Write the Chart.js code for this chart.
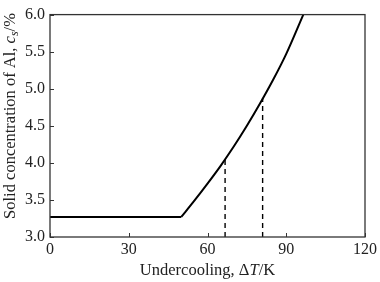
<!DOCTYPE html>
<html>
<head>
<meta charset="utf-8">
<script src="https://cdn.jsdelivr.net/npm/chart.js@4"></script>
<style>
  html, body { margin: 0; padding: 0; background: #fff; }
  #wrap { width: 380px; height: 282px; position: relative; }
</style>
</head>
<body>
<div id="wrap"><canvas id="lineChart"></canvas></div>
<script>
// curve: undercooling (K) vs solid concentration of Al (%)
var undercooling = [0, 50, 55, 60, 65, 70, 75, 80, 85, 90, 96.5];
var concentration = [3.27, 3.27, 3.49, 3.72, 3.96, 4.22, 4.50, 4.80, 5.12, 5.47, 6.0];

// dashed markers
var markX = [66.7, 81];
var markY = [4.05, 4.87];

var xTicks = [0, 30, 60, 90, 120];
var yTicks = [3.0, 3.5, 4.0, 4.5, 5.0, 5.5, 6.0];

var serif = '"Liberation Serif", "DejaVu Serif", serif';

var flat = [], rising = [];
for (var a = 0; a < undercooling.length; a++) {
    var p = { x: undercooling[a], y: concentration[a] };
    if (a <= 1) flat.push(p);
    if (a >= 1) rising.push(p);
}

var datasets = [{
    data: flat,
    borderColor: '#000',
    borderWidth: 2,
    pointRadius: 0,
    fill: false
}, {
    data: rising,
    borderColor: '#000',
    borderWidth: 2,
    pointRadius: 0,
    fill: false,
    cubicInterpolationMode: 'monotone'
}];
for (var b = 0; b < markX.length; b++) {
    datasets.push({
        data: [{ x: markX[b], y: 3.0 }, { x: markX[b], y: markY[b] }],
        borderColor: '#000',
        borderWidth: 1.4,
        borderDash: [5, 4],
        pointRadius: 0,
        fill: false
    });
}

// inward ticks, box frame and rich-text axis titles
var decor = {
    id: 'decor',
    afterDraw: function(chart) {
        var ctx = chart.ctx;
        var area = chart.chartArea;
        var xs = chart.scales.x, ys = chart.scales.y;
        ctx.save();
        ctx.strokeStyle = '#333';
        ctx.lineWidth = 1.3;
        ctx.strokeRect(area.left, area.top, area.right - area.left, area.bottom - area.top);
        ctx.lineWidth = 1;
        ctx.beginPath();
        xTicks.forEach(function(v) {
            var px = Math.round(xs.getPixelForValue(v)) + 0.5;
            ctx.moveTo(px, area.bottom);
            ctx.lineTo(px, area.bottom - 4);
        });
        yTicks.forEach(function(v) {
            var py = Math.round(ys.getPixelForValue(v)) + 0.5;
            ctx.moveTo(area.left, py);
            ctx.lineTo(area.left + 4, py);
        });
        ctx.stroke();

        ctx.fillStyle = '#222';
        ctx.textBaseline = 'alphabetic';
        // x title
        var parts = [['Undercooling, \u0394', 'normal'], ['T', 'italic'], ['/K', 'normal']];
        drawParts(ctx, parts, (area.left + area.right) / 2, 275, 16.5);
        // y title
        ctx.translate(15, 116);
        ctx.rotate(-Math.PI / 2);
        var yparts = [['Solid concentration of Al, ', 'normal'], ['c', 'italic'], ['s', 'italic-sub'], ['/%', 'normal']];
        drawParts(ctx, yparts, 0, 0, 16.5);
        ctx.restore();
    }
};

function drawParts(ctx, parts, cx, y, size) {
    var total = 0;
    var widths = [];
    parts.forEach(function(p) {
        ctx.font = fontFor(p[1], size);
        var w = ctx.measureText(p[0]).width;
        widths.push(w);
        total += w;
    });
    var x = cx - total / 2;
    ctx.textAlign = 'left';
    parts.forEach(function(p, i) {
        ctx.font = fontFor(p[1], size);
        ctx.fillText(p[0], x, p[1] === 'italic-sub' ? y + 3 : y);
        x += widths[i];
    });
}

function fontFor(style, size) {
    if (style === 'italic') return 'italic ' + size + 'px ' + serif;
    if (style === 'italic-sub') return 'italic ' + Math.round(size * 0.7) + 'px ' + serif;
    return size + 'px ' + serif;
}

var ctx = document.getElementById('lineChart').getContext('2d');
new Chart(ctx, {
    type: 'line',
    data: { datasets: datasets },
    plugins: [decor],
    options: {
        responsive: true,
        maintainAspectRatio: false,
        animation: false,
        layout: { padding: { top: 5, right: 12, left: 0, bottom: 0 } },
        plugins: { legend: { display: false }, tooltip: { enabled: false } },
        scales: {
            x: {
                type: 'linear',
                min: 0,
                max: 120,
                afterBuildTicks: function(s) { s.ticks = xTicks.map(function(v) { return { value: v }; }); },
                afterFit: function(s) { s.height = 45; },
                grid: { display: false, drawTicks: false },
                border: { display: false },
                ticks: {
                    color: '#222',
                    font: { family: serif, size: 16 },
                    padding: 3,
                    maxRotation: 0
                }
            },
            y: {
                min: 3.0,
                max: 6.0,
                afterBuildTicks: function(s) { s.ticks = yTicks.map(function(v) { return { value: v }; }); },
                afterFit: function(s) { s.width = 50; },
                grid: { display: false, drawTicks: false },
                border: { display: false },
                ticks: {
                    color: '#222',
                    font: { family: serif, size: 16 },
                    padding: 5,
                    callback: function(v) { return v.toFixed(1); }
                }
            }
        }
    }
});
</script>
</body>
</html>
